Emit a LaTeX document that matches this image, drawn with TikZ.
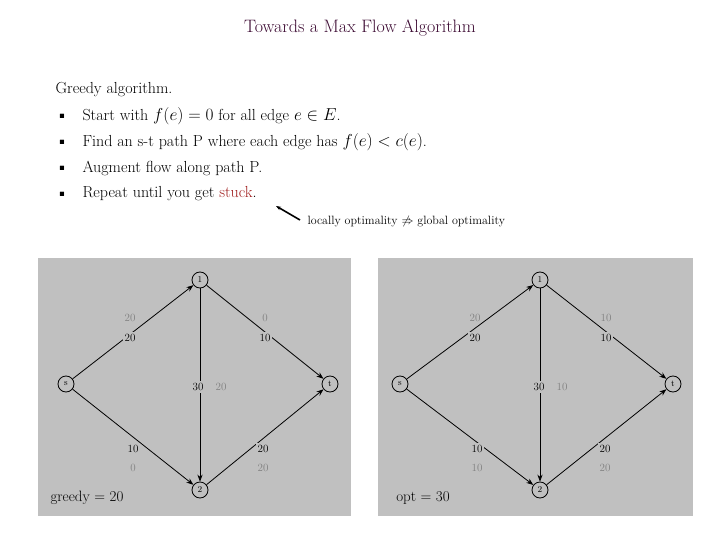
\documentclass[tikz,border=0pt]{standalone}
\usepackage{amssymb}
\usetikzlibrary{arrows.meta}
\begin{document}
\begin{tikzpicture}[x=1pt,y=-1pt,
  vtx/.style={circle,draw,thick,minimum size=16pt,inner sep=0pt,font=\fontsize{9}{10}\selectfont},
  capl/.style={fill=bgc,inner sep=2pt,font=\fontsize{11}{12}\selectfont},
  flw/.style={text=gray,font=\fontsize{11}{12}\selectfont},
  arcx/.style={thick,-{Stealth[length=7pt]}},
  body/.style={anchor=west,font=\fontsize{16}{18}\selectfont}]
\definecolor{bgc}{RGB}{192,192,192}
\definecolor{ttl}{RGB}{60,10,50}
\definecolor{stk}{RGB}{160,30,30}
\useasboundingbox (0,0) rectangle (720,540);
\node[text=ttl,font=\fontsize{18}{20}\selectfont] (title) at (360,28) {Towards a Max Flow Algorithm};
\node[body] (g) at (52,90) {Greedy algorithm.};
\foreach \y/\t [count=\i] in {116/{Start with $f(e) = 0$ for all edge $e \in E$.},142/{Find an s-t path P where each edge has $f(e) < c(e)$.},168/{Augment flow along path P.}}{
  \node[font=\tiny] (b\i) at (62,\y) {$\blacksquare$};
  \node[body] (l\i) at (79,\y) {\t};}
\node[font=\tiny] (b4) at (62,194) {$\blacksquare$};
\node[body] (l4) at (79,194) {Repeat until you get \textcolor{stk}{stuck}.};
\node[anchor=west,font=\fontsize{12}{13}\selectfont] (ann) at (304,222) {locally optimality $\not\Rightarrow$ global optimality};
\coordinate (tip) at (276,206);
\coordinate (tail) at (300,220);
\draw[line width=1.6pt,-{Stealth[length=5pt]}] (tail) -- (tip);
% left
\fill[bgc] (38,258) rectangle (351,516);
\node[vtx] (a1) at (200,280) {1};
\node[vtx] (as) at (66,384) {s};
\node[vtx] (at) at (330,384) {t};
\node[vtx] (a2) at (200,490) {2};
\draw[arcx] (as)--(a1); \draw[arcx] (a1)--(at); \draw[arcx] (as)--(a2); \draw[arcx] (a2)--(at); \draw[arcx] (a1)--(a2);
\node[capl] (ac1) at (130,338) {20}; \node[capl] (ac2) at (265,338) {10};
\node[capl] (ac3) at (133,449) {10}; \node[capl] (ac4) at (263,449) {20};
\node[capl] (ac5) at (198,387) {30};
\node[flw] (af1) at (130,318) {20}; \node[flw] (af2) at (265,318) {0};
\node[flw] (af3) at (133,468) {0}; \node[flw] (af4) at (263,468) {20};
\node[flw] (af5) at (221,387) {20};
\node[font=\fontsize{15}{16}\selectfont] (gr) at (87,498) {greedy = 20};
% right
\fill[bgc] (378,258) rectangle (693,516);
\node[vtx] (b1) at (540,280) {1};
\node[vtx] (bs) at (400,384) {s};
\node[vtx] (bt) at (673,384) {t};
\node[vtx] (b2) at (540,490) {2};
\draw[arcx] (bs)--(b1); \draw[arcx] (b1)--(bt); \draw[arcx] (bs)--(b2); \draw[arcx] (b2)--(bt); \draw[arcx] (b1)--(b2);
\node[capl] (bc1) at (475,338) {20}; \node[capl] (bc2) at (606,338) {10};
\node[capl] (bc3) at (477,449) {10}; \node[capl] (bc4) at (605,449) {20};
\node[capl] (bc5) at (539,387) {30};
\node[flw] (bf1) at (475,318) {20}; \node[flw] (bf2) at (606,318) {10};
\node[flw] (bf3) at (477,468) {10}; \node[flw] (bf4) at (605,468) {20};
\node[flw] (bf5) at (562,387) {10};
\node[font=\fontsize{15}{16}\selectfont] (op) at (423,498) {opt = 30};
\end{tikzpicture}
\end{document}
